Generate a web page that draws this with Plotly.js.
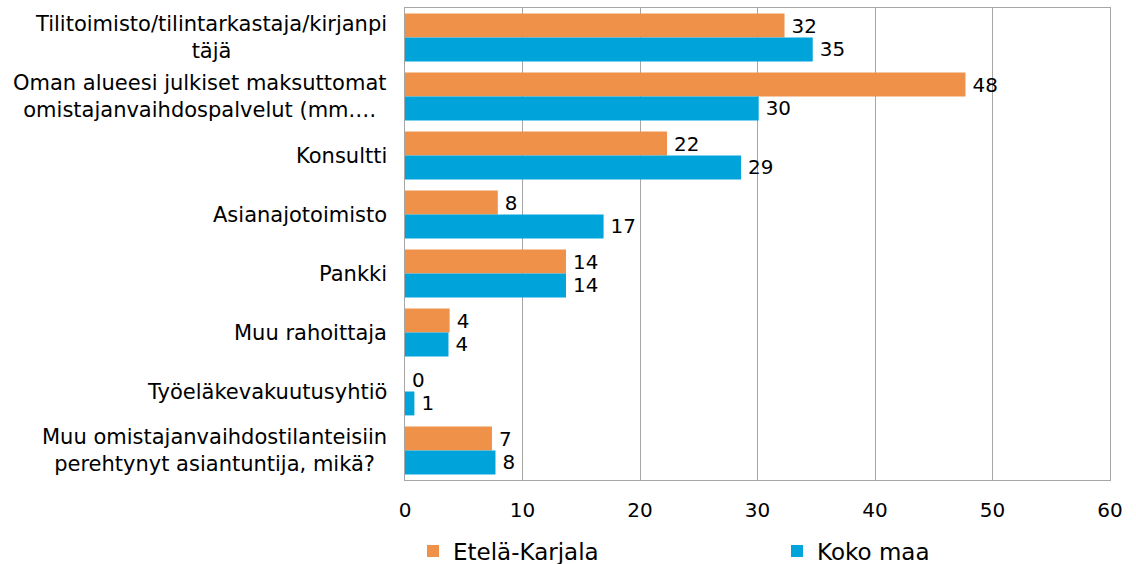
<!DOCTYPE html>
<html>
<head>
<meta charset="utf-8">
<script src="https://cdn.plot.ly/plotly-3.0.1.min.js"></script>
<style>html,body{margin:0;padding:0;background:#fff;}#chart{width:1136px;height:564px;}</style>
</head>
<body>
<div id="chart"></div>
<script>
const categories = [
  "Tilitoimisto/tilintarkastaja/kirjanpi<br>täjä",
  "Oman alueesi julkiset maksuttomat<br>omistajanvaihdospalvelut (mm.…",
  "Konsultti",
  "Asianajotoimisto",
  "Pankki",
  "Muu rahoittaja",
  "Työeläkevakuutusyhtiö",
  "Muu omistajanvaihdostilanteisiin<br>perehtynyt asiantuntija, mikä?"
];
const seriesNames = ["Etelä-Karjala", "Koko maa"];
const etelaKarjala = [32.3, 47.7, 22.3, 7.9, 13.7, 3.8, 0, 7.4];
const kokoMaa = [34.7, 30.1, 28.6, 16.9, 13.7, 3.7, 0.8, 7.7];
const dataLabelsEK = ["32", "48", "22", "8", "14", "4", "0", "7"];
const dataLabelsKM = ["35", "30", "29", "17", "14", "4", "1", "8"];
const xTicks = [0, 10, 20, 30, 40, 50, 60];

const FONT = "DejaVu Sans, sans-serif";
const colors = ["#F0914A", "#00A4DB"];

function mk(vals, labels, i) {
  return {
    type: "bar",
    orientation: "h",
    name: seriesNames[i],
    legend: i === 0 ? "legend" : "legend2",
    y: categories,
    x: vals,
    marker: {color: colors[i]},
    text: labels,
    texttemplate: "\u2009%{text}",
    textposition: "outside",
    textfont: {family: FONT, size: 20, color: "#000"},
    cliponaxis: false,
    hoverinfo: "x+y"
  };
}

const annotations = categories.map(c => ({
  xref: "paper", yref: "y", x: 0, y: c,
  xanchor: "right", yanchor: "middle", xshift: -16,
  text: c, showarrow: false, align: "center",
  font: {family: FONT, size: 21, color: "#000"}
}));

const legendCommon = {
  orientation: "h", xref: "container", yref: "container",
  yanchor: "middle", xanchor: "left",
  font: {family: FONT, size: 23, color: "#000"},
  itemwidth: 30, bgcolor: "rgba(0,0,0,0)"
};

const layout = {
  width: 1136, height: 564,
  margin: {l: 405, r: 26, t: 8, b: 84, autoexpand: false},
  paper_bgcolor: "#fff", plot_bgcolor: "#fff",
  barmode: "group", bargap: 0.19, bargroupgap: 0,
  font: {family: FONT, color: "#000"},
  xaxis: {
    range: [0, 60], tickvals: xTicks, ticktext: xTicks.map(String),
    showgrid: true, gridcolor: "#a6a6a6", gridwidth: 1,
    zeroline: false, showline: true, linecolor: "#a6a6a6", linewidth: 1, mirror: true,
    ticks: "", ticklabelstandoff: 12,
    tickfont: {family: FONT, size: 20, color: "#000"}
  },
  yaxis: {
    autorange: "reversed", showticklabels: false, ticks: "",
    showline: true, linecolor: "#a6a6a6", linewidth: 1, mirror: true,
    showgrid: false, zeroline: false
  },
  annotations: annotations,
  showlegend: true,
  legend: Object.assign({}, legendCommon, {x: 413 / 1136, y: 13 / 564}),
  legend2: Object.assign({}, legendCommon, {x: 777 / 1136, y: 13 / 564})
};

Plotly.newPlot("chart", [mk(etelaKarjala, dataLabelsEK, 0), mk(kokoMaa, dataLabelsKM, 1)], layout, {displayModeBar: false});
</script>
</body>
</html>
